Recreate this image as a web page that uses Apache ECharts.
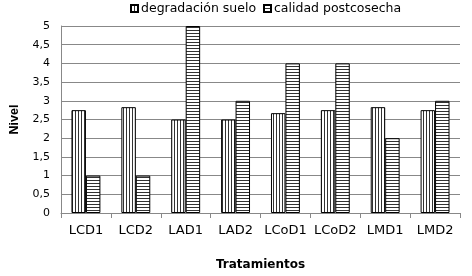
<!DOCTYPE html>
<html><head><meta charset="utf-8">
<script src="https://cdn.jsdelivr.net/npm/echarts@6/dist/echarts.min.js"></script>
<style>html,body{margin:0;padding:0;background:#fff}#c{width:472px;height:276px}</style>
</head><body><div id="c"></div>
<script>
var categories = ['LCD1','LCD2','LAD1','LAD2','LCoD1','LCoD2','LMD1','LMD2'];
var degradacion = [2.75, 2.83, 2.5, 2.5, 2.67, 2.75, 2.83, 2.75];
var calidad = [1, 1, 5, 3, 4, 4, 2, 3];
var seriesNames = ['degradación suelo', 'calidad postcosecha'];

function pattern(vertical) {
  var c = document.createElement('canvas');
  c.width = vertical ? 3 : 1; c.height = vertical ? 1 : 3;
  var ctx = c.getContext('2d');
  ctx.fillStyle = '#fff'; ctx.fillRect(0,0,c.width,c.height);
  ctx.fillStyle = '#333';
  ctx.fillRect(0,0,1,1);
  return {image: c, repeat: 'repeat'};
}
var chart = echarts.init(document.getElementById('c'), null, {renderer:'canvas'});
var font = 'DejaVu Sans, sans-serif';
function legendFor(name, left) {
  return {
    top: 0, left: left, itemWidth: 7, itemHeight: 7, padding: [2, 0, 2, 0], icon: 'rect',
    textStyle: {fontSize: 12.5, color: '#000', fontFamily: font, padding:[0,0,0,-2]},
    data: [name]
  };
}
chart.setOption({
  animation: false,
  textStyle: {fontFamily: font},
  legend: [legendFor(seriesNames[0], 130), legendFor(seriesNames[1], 263)],
  grid: {left: 58, right: 12, top: 26, bottom: 63},
  xAxis: {
    type: 'category', data: categories,
    name: 'Tratamientos', nameLocation: 'middle', nameGap: 46,
    nameTextStyle: {fontWeight: 'bold', fontSize: 12, color: '#000', fontFamily: font},
    axisLine: {lineStyle: {color: '#888'}},
    axisTick: {show: true, length: 5, lineStyle: {color: '#888'}},
    axisLabel: {interval: 0, fontSize: 13, color: '#000', margin: 11, fontFamily: font}
  },
  yAxis: {
    type: 'value', min: 0, max: 5, interval: 0.5,
    name: 'Nivel', nameLocation: 'middle', nameGap: 40, nameRotate: 90,
    nameTextStyle: {fontWeight: 'bold', fontSize: 12.5, color: '#000', fontFamily: 'Liberation Sans, Arial, sans-serif'},
    axisLine: {show: true, lineStyle: {color: '#888'}},
    axisTick: {show: false},
    axisLabel: {fontSize: 11, color: '#000', margin: 11, fontFamily: font,
      formatter: function(v){ return String(v).replace('.', ','); }},
    splitLine: {lineStyle: {color: '#888'}}
  },
  series: [
    {name: seriesNames[0], type: 'bar', data: degradacion, barGap: '0%', barCategoryGap: '42%',
     itemStyle: {color: pattern(true), borderColor: '#000', borderWidth: 1}},
    {name: seriesNames[1], type: 'bar', data: calidad,
     itemStyle: {color: pattern(false), borderColor: '#000', borderWidth: 1}}
  ]
});
</script></body></html>
